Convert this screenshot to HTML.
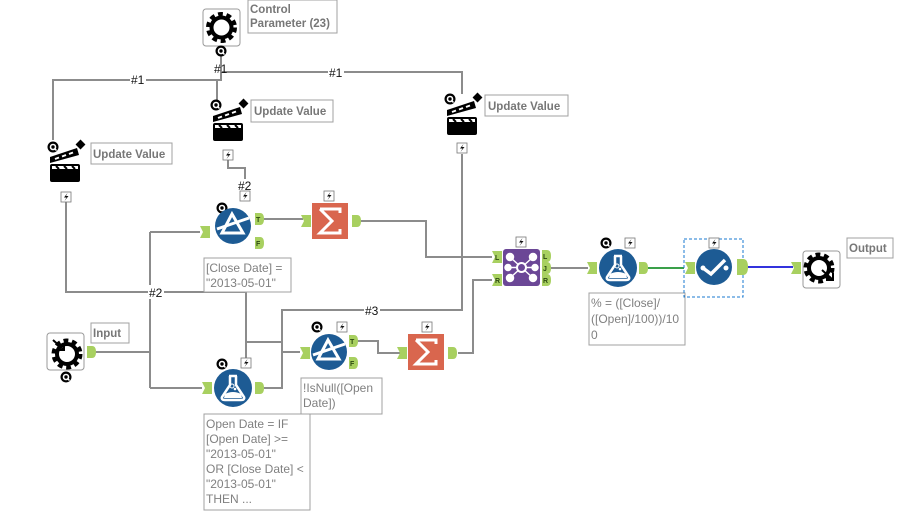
<!DOCTYPE html>
<html><head><meta charset="utf-8"><style>
html,body{margin:0;padding:0;background:#fff;}
svg{display:block;font-family:"Liberation Sans",sans-serif;}
.l{fill:none;stroke:#8c8c8c;stroke-width:2;}
.lb{fill:#fff;stroke:#a0a0a0;stroke-width:1;}
.t{fill:#777;font-size:11.5px;font-weight:bold;}
.e{fill:#808080;font-size:12px;}
.h{fill:#111;font-size:12px;}
.a{fill:#a8d060;}
.at{fill:#2c4a10;font-size:7px;font-weight:bold;}
</style></head><body>
<svg width="913" height="515" viewBox="0 0 913 515">
<defs>
 <g id="bolt"><rect x="-5" y="-5" width="10" height="10" fill="#fff" stroke="#777" stroke-width="0.8"/><path d="M1.5,-4 L-2,0.5 L0.5,0.5 L-1.5,4 L2.5,-1 L0,-1 Z" fill="#111"/></g>
 <g id="q"><circle r="5.5" fill="#000"/><circle r="2.5" fill="none" stroke="#fff" stroke-width="1.6"/><path d="M1.5,1.5 L3.5,3.5" stroke="#fff" stroke-width="1.4"/></g>
 <g id="clap"><rect x="-15" y="-3" width="30" height="18" rx="2" fill="#000"/><path d="M-15,-4 L-15,-10 L12,-19 L14,-12 Z" fill="#000"/><path d="M-10,-8 l4,-1.5 M-3,-10.5 l4,-1.5 M4,-13 l4,-1.5" stroke="#fff" stroke-width="2"/><rect x="-13" y="-1" width="26" height="3" fill="#fff"/><path d="M-9,-1 l3,3 M-1,-1 l3,3 M7,-1 l3,3" stroke="#000" stroke-width="2"/><rect x="12" y="-26" width="7" height="7" transform="rotate(45 15.5 -22.5)" fill="#000"/></g>
 <g id="in"><path d="M-5,-6 L5,-6 L5,6 L-5,6 L-2,0 Z" class="a"/></g>
 <g id="out"><path d="M-4,-6 L1,-6 Q5,-6 5,0 Q5,6 1,6 L-4,6 Z" class="a"/></g>
 <g id="filt"><circle r="18" fill="#1d5b94"/><path d="M-1,-12 L-11,7 L10,7 Z" fill="none" stroke="#fff" stroke-width="3"/><path d="M-16,3 L16,-8" stroke="#fff" stroke-width="3"/></g>
 <g id="flask"><circle r="19" fill="#1d5b94"/><path d="M-4,-12 L4,-12 M-3,-12 L-3,-3 L-11,9 Q-12,12 -8,12 L8,12 Q12,12 11,9 L3,-3 L3,-12" fill="none" stroke="#fff" stroke-width="2.5"/><path d="M-8,6 Q0,2 8,6 L9,10 L-9,10 Z" fill="#fff"/><circle cx="-1" cy="-2" r="2" fill="none" stroke="#fff"/><circle cx="2" cy="1" r="1.3" fill="#fff"/></g>
 <g id="sum"><rect x="-18" y="-18" width="36" height="36" fill="#d9664e"/><path d="M-10,-12 L10,-12 L10,-8 M-10,-12 L2,0 L-10,12 L10,12 L10,8" fill="none" stroke="#fff" stroke-width="3"/></g>
 <g id="gear"><circle r="12.5" fill="none" stroke="#000" stroke-width="6" stroke-dasharray="4.5 3.4"/><circle r="10" fill="none" stroke="#000" stroke-width="4"/></g>
</defs>

<!-- connectors -->
<path class="l" d="M221,56 V80 H53 V140"/>
<path class="l" d="M221,72 H462 V94"/>
<path class="l" d="M217,80 V100"/>
<path class="l" d="M228,160 V168 H245 V200"/>
<path class="l" d="M66,202 V292 H246 V358"/>
<path class="l" d="M246,342 H282"/>
<path class="l" d="M462,154 V310 H282 V388 H264"/>
<path class="l" d="M282,352 H300"/>
<path class="l" d="M96,352 H150 M150,232 V388 M150,232 H200 M150,388 H202"/>
<path class="l" d="M263,219 H303"/>
<path class="l" d="M361,221 H426 V257 H492"/>
<path class="l" d="M357,341 H378 V353 H400"/>
<path class="l" d="M458,353 H473 V280 H492"/>
<path class="l" d="M551,268 H588"/>
<path d="M648,268 H684" stroke="#3aa04a" stroke-width="2"/>
<path d="M745,267 H793" stroke="#3333dd" stroke-width="2"/>

<rect x="130" y="72" width="16" height="14" fill="#fff"/><text class="h" x="131" y="84">#1</text>
<rect x="328" y="65" width="16" height="14" fill="#fff"/><text class="h" x="329" y="77">#1</text>
<text class="h" x="214" y="73">#1</text>
<rect x="237" y="179" width="16" height="14" fill="#fff"/><text class="h" x="238" y="190">#2</text>
<rect x="148" y="285" width="16" height="14" fill="#fff"/><text class="h" x="149" y="297">#2</text>
<rect x="364" y="303" width="16" height="14" fill="#fff"/><text class="h" x="365" y="315">#3</text>

<!-- Control Parameter -->
<rect x="203" y="9" width="37" height="37" rx="3" fill="#fff" stroke="#999"/>
<use href="#gear" x="221.5" y="27.5"/>
<use href="#q" x="221" y="51"/>
<rect class="lb" x="248" y="0" width="89" height="33"/>
<text class="t" x="250" y="13">Control</text><text class="t" x="250" y="27">Parameter (23)</text>

<!-- Update values -->
<use href="#q" x="53" y="147"/><use href="#clap" x="65" y="167"/><use href="#bolt" x="66" y="197"/>
<rect class="lb" x="91" y="143" width="81" height="21"/><text class="t" x="93" y="158">Update Value</text>
<use href="#q" x="216" y="105"/><use href="#clap" x="228" y="126"/><use href="#bolt" x="228" y="155"/>
<rect class="lb" x="251" y="100" width="82" height="22"/><text class="t" x="254" y="115">Update Value</text>
<use href="#q" x="450" y="99"/><use href="#clap" x="462" y="120"/><use href="#bolt" x="462" y="148"/>
<rect class="lb" x="485" y="95" width="83" height="21"/><text class="t" x="488" y="110">Update Value</text>

<!-- Filter 1 -->
<use href="#q" x="222" y="208"/><use href="#bolt" x="245" y="196"/>
<use href="#filt" x="233" y="226"/>
<use href="#in" x="205" y="232"/>
<use href="#out" x="259" y="219"/><text class="at" x="256" y="222">T</text>
<use href="#out" x="259" y="243"/><text class="at" x="256" y="246">F</text>
<rect class="lb" x="204" y="258" width="87" height="34"/>
<text class="e" x="206" y="272">[Close Date] =</text><text class="e" x="206" y="287">"2013-05-01"</text>

<!-- Summarize 1 -->
<use href="#bolt" x="329" y="196"/><use href="#sum" x="330" y="221"/>
<use href="#in" x="306" y="221"/><use href="#out" x="356" y="221"/>

<!-- Join -->
<use href="#bolt" x="521" y="242"/>
<rect x="503" y="249" width="37" height="37" rx="3" fill="#6b4796"/>
<g fill="#fff" stroke="#fff" stroke-width="1.5"><circle cx="510" cy="257" r="3.5"/><circle cx="533" cy="257" r="3.5"/><circle cx="510" cy="278" r="3.5"/><circle cx="533" cy="278" r="3.5"/><circle cx="508" cy="267.5" r="3"/><circle cx="535" cy="267.5" r="3"/><path d="M510,257 L533,278 M533,257 L510,278 M508,267.5 H535"/></g>
<circle cx="521.5" cy="267.5" r="4.5" fill="#6b4796" stroke="#fff" stroke-width="2"/>
<use href="#in" x="497" y="257"/><text class="at" x="495" y="260">L</text>
<use href="#in" x="497" y="280"/><text class="at" x="495" y="283">R</text>
<use href="#out" x="546" y="256"/><text class="at" x="543" y="259">L</text>
<use href="#out" x="546" y="268"/><text class="at" x="543" y="271">J</text>
<use href="#out" x="546" y="280"/><text class="at" x="543" y="283">R</text>

<!-- Formula 2 -->
<use href="#q" x="606" y="243"/><use href="#bolt" x="630" y="243"/>
<use href="#flask" x="618" y="268"/>
<use href="#in" x="592" y="268"/><use href="#out" x="643" y="268"/>
<rect class="lb" x="589" y="293" width="96" height="52"/>
<text class="e" x="591" y="307">% = ([Close]/</text><text class="e" x="591" y="323">([Open]/100))/10</text><text class="e" x="591" y="339">0</text>

<!-- Browse -->
<rect x="684" y="239" width="59" height="58" fill="none" stroke="#1a7ad0" stroke-dasharray="3 2"/>
<use href="#bolt" x="714" y="243"/>
<circle cx="714" cy="267" r="18" fill="#1d5b94"/>
<path d="M703,268 L711,274 L725,260" fill="none" stroke="#fff" stroke-width="3.5"/>
<circle cx="703" cy="268" r="2.5" fill="#fff"/><circle cx="726" cy="268" r="2.5" fill="#fff"/>
<use href="#in" x="690" y="268"/>
<path d="M737,259 L743,259 Q748,259 748,267 Q748,275 743,275 L737,275 Z" class="a"/>

<!-- Output -->
<use href="#in" x="796" y="268"/>
<rect x="803" y="251" width="37" height="37" rx="3" fill="#fff" stroke="#999"/>
<use href="#gear" x="819" y="268"/><path d="M822,270 L833,280 M833,273 V280 H826" stroke="#000" stroke-width="2" fill="none"/>
<rect class="lb" x="847" y="238" width="46" height="20"/><text class="t" x="849" y="252">Output</text>

<!-- Input -->
<rect x="47" y="333" width="37" height="37" rx="3" fill="#fff" stroke="#999"/>
<use href="#gear" x="67" y="354"/><path d="M53,340 L64,350 M57,350 H64 V343" stroke="#000" stroke-width="2" fill="none"/>
<use href="#q" x="66" y="377"/>
<use href="#out" x="91" y="352"/>
<rect class="lb" x="91" y="323" width="38" height="20"/><text class="t" x="93" y="337">Input</text>

<!-- Formula 1 -->
<use href="#q" x="222" y="364"/><use href="#bolt" x="246" y="363"/>
<use href="#flask" x="233" y="388"/>
<use href="#in" x="207" y="388"/><use href="#out" x="259" y="388"/>
<rect class="lb" x="204" y="414" width="106" height="96"/>
<text class="e" x="206" y="428">Open Date = IF</text><text class="e" x="206" y="443">[Open Date] &gt;=</text><text class="e" x="206" y="458">"2013-05-01"</text><text class="e" x="206" y="473">OR [Close Date] &lt;</text><text class="e" x="206" y="488">"2013-05-01"</text><text class="e" x="206" y="503">THEN ...</text>

<!-- Filter 2 -->
<use href="#q" x="317" y="327"/><use href="#bolt" x="342" y="327"/>
<use href="#filt" x="329" y="352"/>
<use href="#in" x="305" y="353"/>
<use href="#out" x="353" y="341"/><text class="at" x="350" y="344">T</text>
<use href="#out" x="353" y="363"/><text class="at" x="350" y="366">F</text>
<rect class="lb" x="301" y="378" width="81" height="36"/>
<text class="e" x="303" y="392">!IsNull([Open</text><text class="e" x="303" y="407">Date])</text>

<!-- Summarize 2 -->
<use href="#bolt" x="427" y="327"/><use href="#sum" x="426" y="352"/>
<use href="#in" x="402" y="353"/><use href="#out" x="452" y="353"/>
</svg>
</body></html>
